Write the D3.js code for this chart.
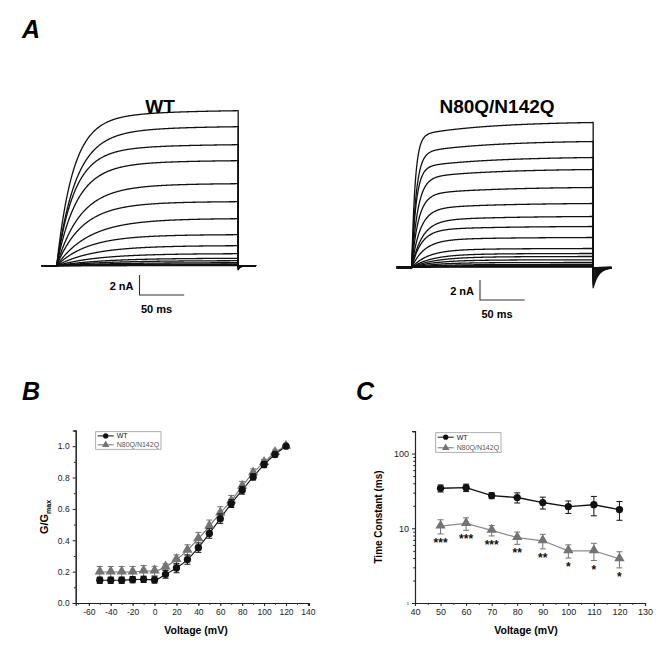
<!DOCTYPE html>
<html><head><meta charset="utf-8">
<script src="https://cdn.jsdelivr.net/npm/d3@7"></script>
<style>body{margin:0;background:#fff}svg{display:block;font-family:"Liberation Sans",Arial,sans-serif}</style>
</head><body><svg id="c" width="666" height="655"></svg>
<script>
// ---------- Panel A: current traces (one per test voltage, mV) ----------
const traceVoltages = [120,110,100,90,80,70,60,50,40,30,20,10,0,-10,-20,-30,-40,-50];
// steady-state current at end of pulse (nA)
const wtTraceAmp  = [15.5,13.9,12.1,10.5,8.2,6.4,4.7,3.1,2.0,1.2,0.74,0.5,0.3,0.17,0.1,0.06,0.03,0.01];
// activation time constant (ms)
const wtTraceTau  = [18,21,19.5,22,26,28,35,34,40,45,50,55,60,60,60,60,60,60];
const mutTraceAmp = [14.5,12.6,11.0,9.8,8.0,6.4,5.1,4.1,3.0,1.9,1.4,1.1,0.77,0.5,0.3,0.2,0.1,0.05];
const mutTraceTau = [3.9,5,5,6.8,7.5,9.4,11.6,10.7,14,18,22,25,25,25,25,25,25,25];

// ---------- Panel B: G/Gmax ----------
const gvVoltage = [-50,-40,-30,-20,-10,0,10,20,30,40,50,60,70,80,90,100,110,120];
const gvWT      = [0.145,0.145,0.145,0.149,0.151,0.147,0.183,0.223,0.277,0.353,0.443,0.538,0.634,0.719,0.804,0.883,0.947,1.0];
const gvWTErr   = [0.02,0.02,0.02,0.02,0.02,0.02,0.025,0.03,0.03,0.03,0.03,0.03,0.025,0.025,0.02,0.02,0.015,0];
const gvMut     = [0.198,0.198,0.198,0.198,0.204,0.204,0.23,0.277,0.336,0.41,0.489,0.574,0.651,0.745,0.83,0.896,0.96,1.0];
const gvMutErr  = [0.035,0.035,0.035,0.035,0.035,0.03,0.02,0.03,0.035,0.04,0.04,0.04,0.035,0.03,0.025,0.02,0.015,0];
const gvXTicks  = [-60,-40,-20,0,20,40,60,80,100,120,140];
const gvYTicks  = [0,0.2,0.4,0.6,0.8,1.0];

// ---------- Panel C: time constants ----------
const tcVoltage = [50,60,70,80,90,100,110,120];
const tcWT      = [34.3,35,27.4,25.8,22.1,19.5,20.7,17.8];
const tcWTErr   = [3.7,4,2.5,4,4,3.7,6,5];
const tcMut     = [10.7,11.6,9.4,7.5,6.8,5.0,5.0,3.9];
const tcMutErr  = [2.3,2.2,1.5,1.4,1.5,1.0,1.3,0.95];
const tcSig     = ["***","***","***","**","**","*","*","*"];
const tcXTicks  = [40,50,60,70,80,90,100,110,120,130];
const tcYTicks  = [1,10,100];

const seriesNames = ["WT","N80Q/N142Q"];

const svg = d3.select("#c");
const MUT_COL = "#737373";
const plainNum = d => String(d);

// ---------- panel letters ----------
[["A",22,38],["B",22,400],["C",356,400]].forEach(([t,x,y])=>{
  svg.append("text").attr("x",x).attr("y",y).attr("font-size",25).attr("font-weight","bold")
    .attr("font-style","italic").text(t);
});

// ---------- Panel A ----------
function drawTraces(cfg){
  const g = svg.append("g");
  const tx = d3.scaleLinear().domain([0,50]).range([cfg.x0, cfg.x0+44.7]);
  const iy = d3.scaleLinear().domain([0,2]).range([cfg.base, cfg.base-20]);
  const P = 203; // pulse duration ms
  const line = d3.line().x(d=>tx(d[0])).y(d=>iy(d[1]));
  cfg.amps.forEach((A,k)=>{
    const tau = cfg.taus[k], s = cfg.slow, ts = 80;
    const f = t => (1-s)*(1-Math.exp(-t/tau)) + s*(1-Math.exp(-t/ts));
    const norm = f(P);
    const pts = [[cfg.tStart,0],[0,0]];
    for(let t=0.5;t<=P;t+=0.5) pts.push([t, A*f(t)/norm]);
    pts.push([P, A*f(P)/norm]);
    const tailA = A*cfg.tailFrac;
    for(let t=P;t<=cfg.tStop;t+=0.25) pts.push([t, -tailA*Math.exp(-(t-P)/cfg.tailTau)]);
    g.append("path").attr("d",line(pts)).attr("fill","none").attr("stroke","#111")
      .attr("stroke-width",1.3).attr("stroke-linejoin","round");
  });
  svg.append("text").attr("x",cfg.titleX).attr("y",113).attr("text-anchor","middle")
    .attr("font-size",19).attr("font-weight","bold").text(cfg.title);
  const sb = svg.append("g").attr("stroke","#333").attr("stroke-width",1.1).attr("fill","none");
  const bx = cfg.barX, by = cfg.barY;
  sb.append("path").attr("d",`M${bx},${by-20}V${by}H${bx+(tx(50)-tx(0))}`);
  svg.append("text").attr("x",bx-6).attr("y",by-5).attr("text-anchor","end")
    .attr("font-size",11).attr("font-weight","bold").text("2 nA");
  svg.append("text").attr("x",bx+17).attr("y",by+18).attr("text-anchor","middle")
    .attr("font-size",11).attr("font-weight","bold").text("50 ms");
}
drawTraces({amps:wtTraceAmp,taus:wtTraceTau,x0:56.7,base:265.7,tStart:-16.8,tStop:223,
  tailFrac:0.026,tailTau:2.5,slow:0.08,title:"WT",titleX:160,barX:139.5,barY:295});
drawTraces({amps:mutTraceAmp,taus:mutTraceTau,x0:411.7,base:267.5,tStart:-16.8,tStop:223.5,
  tailFrac:0.14,tailTau:6,slow:0.1,title:"N80Q/N142Q",titleX:497,barX:480,barY:300});

// ---------- helpers ----------
function errBars(g,xs,ys,es,x,y,col){
  xs.forEach((v,i)=>{
    if(!es[i]) return;
    const X=x(v), y1=y(ys[i]+es[i]), y2=y(ys[i]-es[i]);
    g.append("path").attr("d",`M${X},${y1}V${y2}M${X-3},${y1}H${X+3}M${X-3},${y2}H${X+3}`)
      .attr("stroke",col).attr("stroke-width",1).attr("fill","none");
  });
}
function markers(g,xs,ys,x,y,type,col){
  const sym = type==="c" ? d3.symbol().type(d3.symbolCircle).size(42) : d3.symbol().type(d3.symbolTriangle).size(46);
  xs.forEach((v,i)=>{
    g.append("path").attr("d",sym()).attr("transform",`translate(${x(v)},${y(ys[i])+(type==="c"?0:-0.5)})`)
      .attr("fill",col);
  });
}
function legend(x,y,w,h,rowY,textX,fs){
  const g = svg.append("g");
  g.append("rect").attr("x",x).attr("y",y).attr("width",w).attr("height",h).attr("fill","#fff")
    .attr("stroke","#9a9a9a").attr("stroke-width",0.8);
  const cols=["#111",MUT_COL];
  rowY.forEach((ry,i)=>{
    g.append("line").attr("x1",x+2).attr("x2",textX-3).attr("y1",ry).attr("y2",ry)
      .attr("stroke",cols[i]).attr("stroke-width",1);
    const sym = i===0 ? d3.symbol().type(d3.symbolCircle).size(22) : d3.symbol().type(d3.symbolTriangle).size(24);
    g.append("path").attr("d",sym()).attr("transform",`translate(${(x+textX-1)/2},${ry})`).attr("fill",cols[i]);
    g.append("text").attr("x",textX).attr("y",ry+2.5).attr("font-size",fs).attr("fill",i===0?"#111":"#555")
      .text(seriesNames[i]);
  });
}
function styleAxis(a,fs){
  a.selectAll("path,line").attr("stroke","#222");
  a.select(".domain").attr("stroke-width",1.1);
  a.selectAll("text").attr("font-size",fs).attr("fill","#222").attr("font-family","Liberation Sans, Arial");
}

// ---------- Panel B ----------
{
  const x = d3.scaleLinear().domain([-72,141]).range([75.7,309]);
  const y = d3.scaleLinear().domain([0,1.1]).range([603,430.5]);
  const g = svg.append("g");
  const ax = g.append("g").attr("transform","translate(0,603)")
    .call(d3.axisBottom(x).tickValues(gvXTicks).tickSize(3).tickPadding(3).tickFormat(plainNum));
  const axm = g.append("g").attr("transform","translate(0,603)")
    .call(d3.axisBottom(x).tickValues(d3.range(-70,141,10)).tickSize(1.8).tickFormat(""));
  const ay = g.append("g").attr("transform","translate(75.7,0)")
    .call(d3.axisLeft(y).tickValues(gvYTicks).tickSize(3).tickPadding(3).tickFormat(d3.format(".1f")));
  const aym = g.append("g").attr("transform","translate(75.7,0)")
    .call(d3.axisLeft(y).tickValues(d3.range(0.1,1.11,0.2)).tickSize(1.8).tickFormat(""));
  [ax,axm,ay,aym].forEach(a=>styleAxis(a,8.5));
  const ln = d3.line().x((d,i)=>x(gvVoltage[i])).y(d=>y(d)).curve(d3.curveMonotoneX);
  g.append("path").attr("d",ln(gvMut)).attr("fill","none").attr("stroke",MUT_COL).attr("stroke-width",1.1);
  g.append("path").attr("d",ln(gvWT)).attr("fill","none").attr("stroke","#111").attr("stroke-width",1.1);
  errBars(g,gvVoltage,gvMut,gvMutErr,x,y,MUT_COL);
  markers(g,gvVoltage,gvMut,x,y,"t",MUT_COL);
  errBars(g,gvVoltage,gvWT,gvWTErr,x,y,"#111");
  markers(g,gvVoltage,gvWT,x,y,"c","#111");
  svg.append("text").attr("x",196).attr("y",634).attr("text-anchor","middle").attr("font-size",10.5)
    .attr("font-weight","bold").text("Voltage (mV)");
  const yl = svg.append("text").attr("transform","translate(48,517) rotate(-90)").attr("text-anchor","middle")
    .attr("font-size",11).attr("font-weight","bold");
  yl.append("tspan").text("G/G");
  yl.append("tspan").attr("font-size",7).attr("dy",3).text("max");
  legend(95.7,431.7,65.3,17.6,[435.9,444.8],116.7,7);
}

// ---------- Panel C ----------
{
  const x = d3.scaleLinear().domain([40,130]).range([415,645]);
  const y = d3.scaleLog().domain([1,200]).range([603,431.1]);
  const g = svg.append("g");
  const ax = g.append("g").attr("transform","translate(0,603)")
    .call(d3.axisBottom(x).tickValues(tcXTicks).tickSize(3).tickPadding(3).tickFormat(plainNum));
  const axm = g.append("g").attr("transform","translate(0,603)")
    .call(d3.axisBottom(x).tickValues(d3.range(45,130,10)).tickSize(1.8).tickFormat(""));
  const ay = g.append("g").attr("transform","translate(415,0)")
    .call(d3.axisLeft(y).tickValues(tcYTicks).tickSize(3).tickPadding(3).tickFormat(plainNum));
  const minor = [];
  [1,10,100].forEach(dec=>{for(let k=2;k<=9;k++){const v=dec*k; if(v<=200) minor.push(v);}});
  const aym = g.append("g").attr("transform","translate(415,0)")
    .call(d3.axisLeft(y).tickValues(minor).tickSize(1.8).tickFormat(""));
  [ax,axm,ay,aym].forEach(a=>styleAxis(a,9));
  ay.selectAll(".tick").filter(d=>d===1).select("text").attr("font-size",4);
  const lnW = d3.line().x((d,i)=>x(tcVoltage[i])).y(d=>y(d));
  g.append("path").attr("d",lnW(tcMut)).attr("fill","none").attr("stroke","#8a8a8a").attr("stroke-width",1.2);
  g.append("path").attr("d",lnW(tcWT)).attr("fill","none").attr("stroke","#111").attr("stroke-width",1.4);
  errBars(g,tcVoltage,tcMut,tcMutErr,x,y,MUT_COL);
  markers(g,tcVoltage,tcMut,x,y,"t",MUT_COL);
  errBars(g,tcVoltage,tcWT,tcWTErr,x,y,"#111");
  markers(g,tcVoltage,tcWT,x,y,"c","#111");
  tcVoltage.forEach((v,i)=>{
    g.append("text").attr("x",x(v)).attr("y",y(tcMut[i]-tcMutErr[i])+13).attr("text-anchor","middle")
      .attr("font-size",12).attr("font-weight","bold").attr("fill","#111").text(tcSig[i]);
  });
  svg.append("text").attr("x",526).attr("y",634).attr("text-anchor","middle").attr("font-size",10.5)
    .attr("font-weight","bold").text("Voltage (mV)");
  svg.append("text").attr("transform","translate(382,517) rotate(-90)").attr("text-anchor","middle")
    .attr("font-size",10).attr("font-weight","bold").text("Time Constant (ms)");
  legend(435.7,432.7,65.3,19.6,[437.2,447.8],456.7,7);
}
</script></body></html>
